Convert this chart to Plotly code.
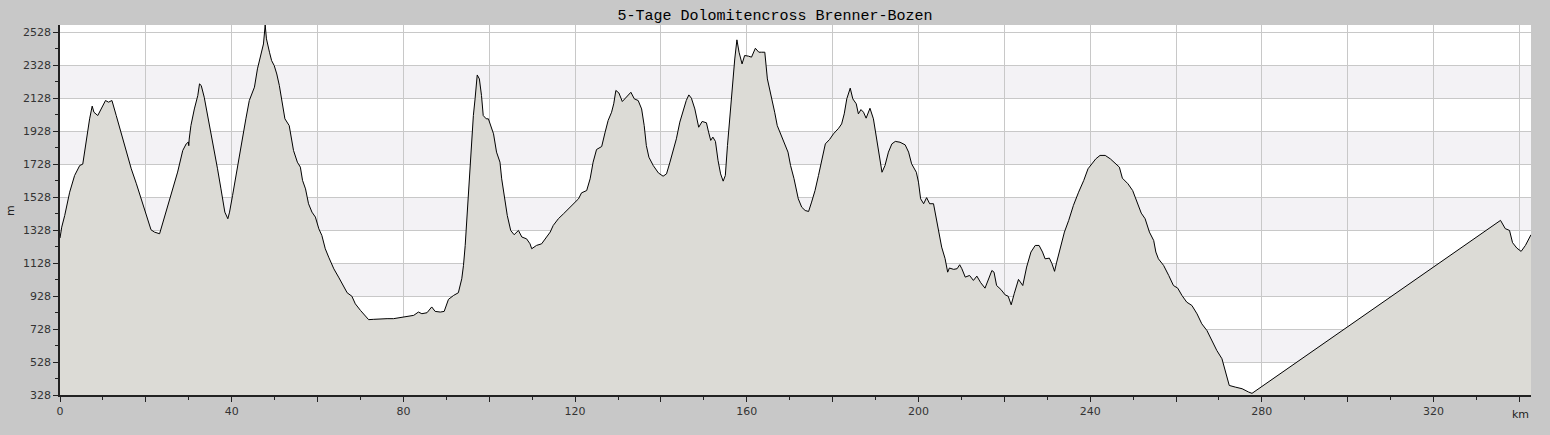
import plotly.graph_objects as go

# Distance along the route (km) and elevation (m)
km = [0.0, 0.4, 1.1, 2.25, 3.4, 4.6, 5.3, 6.1, 6.9, 7.5, 7.9, 8.8, 9.6, 10.6, 11.3, 12.1,
      13.1, 14.3, 15.4, 16.6, 17.8, 18.9, 20.1, 21.2, 22.0, 23.2, 24.0, 25.1, 26.3, 27.4,
      28.6, 29.4, 29.9, 30.0, 30.1, 30.5, 31.3, 32.1, 32.5, 32.9, 33.6, 34.4, 35.2, 36.0,
      36.7, 37.5, 38.4, 39.1, 39.5, 40.2, 41.0, 41.8, 42.6, 43.3, 44.1, 44.9, 45.3, 46.0,
      46.8, 47.4, 47.8, 48.1, 48.8, 49.3, 49.9, 50.5, 51.1, 51.9, 52.4, 53.4, 54.0, 54.4,
      55.3, 56.0, 56.5, 57.2, 57.9, 58.7, 59.5, 60.3, 61.0, 61.8, 62.6, 63.8, 64.9, 65.7,
      66.9, 68.0, 68.8, 70.0, 71.1, 71.9, 73.1, 74.6, 76.2, 77.7, 79.3, 80.8, 82.4, 83.5,
      84.3, 85.5, 86.6, 87.4, 88.6, 89.5, 90.5, 91.7, 92.8, 93.6, 94.0, 94.4, 94.8, 95.1,
      95.5, 95.9, 96.3, 96.7, 97.2, 97.7, 98.2, 98.6, 99.3, 99.8, 100.3, 101.0, 101.7,
      102.5, 102.9, 103.7, 104.2, 105.0, 105.8, 106.8, 107.6, 108.7, 109.5, 109.9, 111.0,
      112.2, 113.0, 114.2, 114.9, 116.1, 117.3, 118.4, 119.6, 120.8, 121.5, 122.7, 123.5,
      124.2, 125.0, 126.2, 127.0, 127.7, 128.5, 129.0, 129.5, 130.2, 131.0, 131.8, 132.4,
      133.0, 133.8, 134.7, 135.5, 136.1, 136.6, 137.2, 138.2, 139.4, 140.5, 141.3, 142.1,
      142.8, 143.6, 144.4, 145.2, 145.9, 146.5, 147.1, 147.9, 148.3, 148.8, 149.6, 150.6,
      151.1, 151.6, 152.1, 152.7, 153.3, 153.9, 154.5, 155.0, 155.5, 156.0, 156.6, 157.2,
      157.7, 158.2, 158.9, 159.5, 160.4, 161.1, 162.0, 162.8, 163.4, 164.2, 164.8, 165.7,
      166.5, 167.1, 168.0, 169.0, 169.6, 170.2, 171.0, 172.0, 172.8, 173.6, 174.4, 175.1,
      175.9, 176.7, 177.5, 178.3, 179.3, 180.2, 181.4, 182.1, 182.7, 183.3, 184.1, 184.7,
      185.5, 186.0, 186.6, 187.2, 187.8, 188.7, 189.5, 190.1, 190.7, 191.1, 191.5, 192.2,
      193.0, 193.8, 194.6, 195.7, 196.9, 197.7, 198.4, 199.5, 200.0, 200.5, 201.2, 201.9,
      202.6, 203.5, 204.1, 204.7, 205.4, 206.2, 206.8, 207.2, 208.2, 209.0, 209.6, 210.1,
      210.9, 211.9, 212.8, 213.6, 214.5, 215.5, 216.3, 217.1, 217.6, 218.2, 219.2, 220.2,
      220.9, 221.6, 222.3, 223.3, 224.3, 225.2, 226.2, 227.2, 228.1, 228.9, 229.5, 230.5,
      231.1, 231.7, 232.2, 233.0, 234.0, 235.0, 236.1, 237.3, 238.5, 239.5, 240.4, 241.3,
      242.3, 243.5, 244.7, 245.8, 246.8, 247.5, 248.8, 249.9, 250.9, 251.9, 252.8, 253.8,
      254.8, 255.3, 255.9, 257.1, 258.3, 259.4, 260.4, 261.4, 262.5, 263.7, 264.9, 266.0,
      267.2, 268.4, 269.5, 270.7, 271.5, 272.4, 273.8, 275.4, 276.9, 277.7, 335.6, 336.7,
      337.7, 338.4, 339.4, 340.4, 341.4, 342.5, 342.7]
elev = [1280, 1346, 1417, 1558, 1659, 1720, 1728, 1882, 2003, 2080, 2043, 2023, 2063, 2114, 2104, 2114,
        2023, 1912, 1811, 1700, 1609, 1518, 1417, 1330, 1316, 1306, 1377, 1478, 1578, 1680,
        1811, 1851, 1862, 1840, 1880, 1962, 2063, 2144, 2215, 2205, 2134, 2023, 1922, 1811,
        1700, 1578, 1437, 1397, 1437, 1538, 1659, 1801, 1902, 2003, 2114, 2175, 2195, 2306,
        2387, 2457, 2572, 2488, 2407, 2356, 2326, 2275, 2205, 2063, 2003, 1962, 1882, 1811,
        1740, 1710, 1630, 1578, 1488, 1437, 1407, 1336, 1296, 1215, 1164, 1093, 1043, 1002,
        948, 927, 881, 841, 811, 785, 787, 791, 791, 791, 797, 805, 811, 831,
        821, 827, 862, 835, 831, 835, 908, 932, 948, 1033, 1114, 1235, 1397, 1538,
        1720, 1882, 2023, 2124, 2269, 2245, 2144, 2023, 2003, 2003, 1962, 1912, 1801,
        1740, 1639, 1508, 1417, 1326, 1300, 1326, 1286, 1275, 1245, 1215, 1235,
        1245, 1275, 1316, 1356, 1397, 1427, 1457, 1488, 1518, 1554, 1568, 1639,
        1740, 1817, 1835, 1922, 1993, 2043, 2094, 2175, 2160, 2108, 2128, 2148,
        2164, 2124, 2114, 2063, 1962, 1841, 1770, 1720, 1675, 1655, 1669, 1740,
        1811, 1882, 1983, 2053, 2114, 2148, 2128, 2063, 2003, 1952, 1987, 1979,
        1922, 1872, 1892, 1866, 1751, 1669, 1625, 1659, 1841, 2003, 2205, 2366,
        2482, 2407, 2336, 2387, 2383, 2377, 2431, 2407, 2407, 2407, 2245, 2144,
        2043, 1962, 1902, 1831, 1801, 1720, 1640, 1518, 1467, 1447, 1441, 1498,
        1568, 1659, 1760, 1851, 1878, 1912, 1946, 1972, 2033, 2124, 2189, 2124,
        2094, 2033, 2059, 2043, 2007, 2067, 2003, 1902, 1801, 1740, 1679, 1720,
        1801, 1851, 1866, 1861, 1845, 1801, 1730, 1679, 1619, 1518, 1488, 1525,
        1488, 1488, 1397, 1306, 1225, 1155, 1073, 1098, 1090, 1094, 1118, 1094,
        1043, 1053, 1023, 1049, 1009, 976, 1033, 1083, 1073, 992, 968, 935,
        927, 875, 942, 1029, 992, 1104, 1195, 1235, 1235, 1195, 1154, 1158,
        1124, 1078, 1134, 1215, 1316, 1387, 1478, 1558, 1629, 1700, 1730, 1760,
        1781, 1781, 1760, 1736, 1710, 1643, 1609, 1568, 1498, 1431, 1397, 1316,
        1265, 1195, 1154, 1114, 1053, 992, 976, 931, 891, 871, 820, 760,
        719, 659, 598, 548, 467, 386, 376, 366, 346, 338, 1387, 1337,
        1326, 1252, 1219, 1199, 1235, 1296, 1300]

y_ticks = [328, 528, 728, 928, 1128, 1328, 1528, 1728, 1928, 2128, 2328, 2528]
x_ticks = list(range(0, 341, 20))
x_labels = [str(v) if v % 40 == 0 else "" for v in x_ticks]

fig = go.Figure()
fig.add_trace(go.Scatter(
    x=km, y=elev, mode="lines", fill="tozeroy",
    fillcolor="#dcdbd6", line=dict(color="black", width=1),
    hoverinfo="x+y", showlegend=False,
))

# alternating light bands between the y grid lines
shapes = []
for i in range(1, len(y_ticks) - 1, 2):
    shapes.append(dict(type="rect", xref="paper", yref="y", x0=0, x1=1,
                       y0=y_ticks[i], y1=y_ticks[i + 1],
                       fillcolor="#f3f2f5", line=dict(width=0), layer="below"))

fig.update_layout(
    width=1550, height=435,
    margin=dict(l=60, r=19, t=25, b=40),
    paper_bgcolor="#c8c8c8", plot_bgcolor="white",
    title=dict(text="5-Tage Dolomitencross Brenner-Bozen", x=0.5, xanchor="center",
               y=0.967, yanchor="middle",
               font=dict(family="Liberation Mono", size=15, color="black")),
    font=dict(family="DejaVu Sans", size=11, color="#333333"),
    shapes=shapes,
    annotations=[
        dict(text="km", xref="paper", yref="paper", x=1, y=-0.052,
             xanchor="right", yanchor="middle", showarrow=False,
             font=dict(family="DejaVu Sans", size=11, color="#222222")),
        dict(text="m", xref="paper", yref="paper", x=-0.034, y=0.5, textangle=-90,
             xanchor="center", yanchor="middle", showarrow=False,
             font=dict(family="DejaVu Sans", size=11, color="#222222")),
    ],
)
fig.update_xaxes(
    range=[0, 342.7], tickmode="array", tickvals=x_ticks, ticktext=x_labels,
    showgrid=True, gridcolor="#c8c8c8", gridwidth=1,
    showline=True, linecolor="#222222", linewidth=1.5,
    ticks="outside", ticklen=5, tickcolor="#222222",
    minor=dict(dtick=10, tick0=0, ticks="outside", ticklen=3, tickcolor="#222222", showgrid=False),
    zeroline=False, automargin=False,
)
fig.update_yaxes(
    range=[328, 2572], tickmode="array", tickvals=y_ticks,
    showgrid=True, gridcolor="#c8c8c8", gridwidth=1,
    showline=True, linecolor="#222222", linewidth=1.5,
    ticks="outside", ticklen=5, tickcolor="#222222",
    minor=dict(dtick=100, tick0=328, ticks="outside", ticklen=3, tickcolor="#222222", showgrid=False),
    zeroline=False, automargin=False,
)

fig.write_html("out.html", config={"displayModeBar": False},
               post_script="document.body.style.margin='0';")
